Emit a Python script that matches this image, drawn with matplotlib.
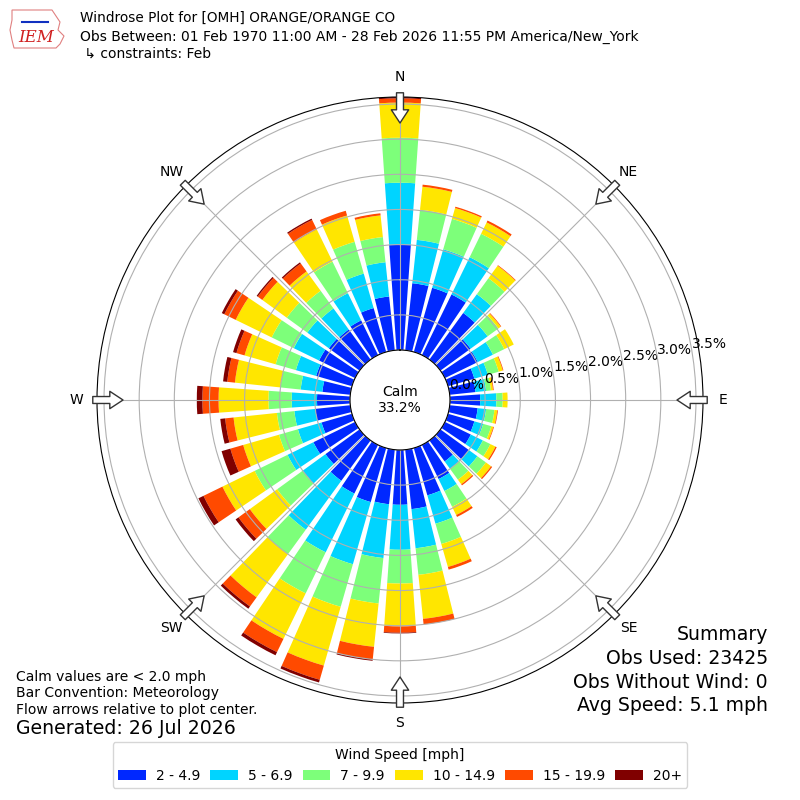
import numpy as np
import matplotlib
matplotlib.use("Agg")
import matplotlib.pyplot as plt
from matplotlib.patches import Patch, Polygon

# wind direction bins (degrees, meteorological convention)
directions = list(range(0, 360, 10))

# frequency (%) of each speed class per direction
speed_2_5 = [1.50, 0.96, 0.95, 0.96, 0.82, 0.53, 0.52, 0.39, 0.37, 0.43, 0.40, 0.39,
             0.41, 0.50, 0.37, 0.54, 0.70, 0.85, 0.78, 0.78, 0.80, 0.77, 0.71, 0.60,
             0.66, 0.45, 0.50, 0.47, 0.40, 0.53, 0.57, 0.54, 0.53, 0.55, 0.65, 0.77]
speed_5_7 = [0.88, 0.62, 0.57, 0.59, 0.33, 0.30, 0.24, 0.20, 0.15, 0.23, 0.12, 0.13,
             0.19, 0.15, 0.13, 0.19, 0.42, 0.56, 0.64, 0.77, 0.92, 0.93, 0.86, 0.40,
             0.41, 0.35, 0.30, 0.36, 0.31, 0.30, 0.40, 0.38, 0.37, 0.43, 0.51, 0.49]
speed_7_10 = [0.64, 0.43, 0.45, 0.37, 0.28, 0.19, 0.18, 0.16, 0.07, 0.09, 0.12, 0.12,
              0.12, 0.15, 0.19, 0.25, 0.30, 0.38, 0.48, 0.65, 0.63, 0.65, 0.43, 0.45,
              0.52, 0.28, 0.25, 0.33, 0.29, 0.30, 0.35, 0.36, 0.31, 0.50, 0.47, 0.36]
speed_10_15 = [0.50, 0.33, 0.16, 0.18, 0.22, 0.04, 0.15, 0.06, 0.03, 0.07, 0.04, 0.03,
               0.08, 0.09, 0.08, 0.13, 0.34, 0.63, 0.61, 0.62, 0.87, 0.72, 0.76, 0.48,
               0.51, 0.53, 0.62, 0.71, 0.65, 0.46, 0.57, 0.43, 0.34, 0.51, 0.39, 0.31]
speed_15_20 = [0.06, 0.03, 0.02, 0.03, 0.01, 0.01, 0.00, 0.01, 0.01, 0.00, 0.01, 0.01,
               0.02, 0.02, 0.02, 0.03, 0.04, 0.08, 0.09, 0.18, 0.21, 0.21, 0.16, 0.20,
               0.30, 0.19, 0.12, 0.23, 0.11, 0.12, 0.18, 0.08, 0.14, 0.15, 0.07, 0.03]
speed_20_up = [0.02, 0.00, 0.00, 0.00, 0.00, 0.00, 0.00, 0.00, 0.00, 0.00, 0.00, 0.00,
               0.00, 0.00, 0.00, 0.00, 0.00, 0.00, 0.01, 0.02, 0.04, 0.05, 0.04, 0.05,
               0.08, 0.13, 0.07, 0.08, 0.06, 0.05, 0.04, 0.02, 0.02, 0.02, 0.00, 0.00]

speed_labels = ["2 - 4.9", "5 - 6.9", "7 - 9.9", "10 - 14.9", "15 - 19.9", "20+"]
colors = ["#0028ff", "#00d4ff", "#7dff7a", "#ffe600", "#ff4a00", "#800000"]

compass = ["N", "NE", "E", "SE", "S", "SW", "W", "NW"]
rings = [0.0, 0.5, 1.0, 1.5, 2.0, 2.5, 3.0, 3.5]

fig = plt.figure(figsize=(8, 8), dpi=100)
ax = fig.add_axes([0.12125, 0.12125, 0.7575, 0.7575], projection="polar")
ax.set_theta_zero_location("N")
ax.set_theta_direction(-1)

theta = np.deg2rad(directions)
bottom = np.zeros(len(directions))
for vals, color in zip([speed_2_5, speed_5_7, speed_7_10, speed_10_15,
                        speed_15_20, speed_20_up], colors):
    ax.bar(theta, vals, width=np.deg2rad(8), bottom=bottom, color=color,
           linewidth=0, zorder=1)
    bottom = bottom + np.array(vals)

ax.set_ylim(0, 3.6)
ax.set_rorigin(-0.711)
ax.set_rgrids(rings, labels=[f"{r:.1f}%" for r in rings], angle=80.5)
ax.set_thetagrids(range(0, 360, 45), compass)
ax.grid(color="#b0b0b0", lw=0.8)
ax.tick_params(axis="x", pad=4, labelsize=10)
ax.tick_params(axis="y", labelsize=10)

# flow arrows on the outer ring, pointing to the centre
for ang in range(0, 360, 45):
    t = np.deg2rad(ang)
    ax.annotate("", xy=(t, 3.23), xytext=(t, 3.66), annotation_clip=False,
                arrowprops=dict(arrowstyle="simple,head_length=0.95,head_width=1.25,tail_width=0.5",
                                fc="white", ec="#333333", lw=1, shrinkA=0, shrinkB=0,
                                mutation_scale=10, clip_on=False))

fig.text(0.5, 0.5, "Calm\n33.2%", ha="center", va="center", fontsize=10)

# rough IEM logo
logo = [(12, 10), (52, 10), (56, 16), (60, 22), (58, 30), (64, 36), (60, 44),
        (56, 48), (14, 48), (12, 40), (10, 30), (12, 20)]
fig.patches.append(Polygon([(x / 800, 1 - y / 800) for x, y in logo], closed=True,
                           fill=False, ec="#e08080", lw=0.8, transform=fig.transFigure))
fig.add_artist(plt.Line2D([22 / 800, 48 / 800], [1 - 22 / 800, 1 - 22 / 800],
                          color="#1030c0", lw=1.5))
fig.text(36 / 800, 1 - 38 / 800, "IEM", color="#d02020", fontsize=12,
         family="DejaVu Serif", style="italic", ha="center", va="center")

fig.text(0.1, 1 - 18 / 800, "Windrose Plot for [OMH] ORANGE/ORANGE CO",
         fontsize=9.8, va="center")
fig.text(0.1, 1 - 37 / 800,
         "Obs Between: 01 Feb 1970 11:00 AM - 28 Feb 2026 11:55 PM America/New_York",
         fontsize=10, va="center")
fig.text(0.1, 1 - 54 / 800, " \u21b3 constraints: Feb", fontsize=10, va="center")

fig.text(0.02, 1 - 677 / 800, "Calm values are < 2.0 mph", fontsize=10, va="center")
fig.text(0.02, 1 - 693 / 800, "Bar Convention: Meteorology", fontsize=10, va="center")
fig.text(0.02, 1 - 710 / 800, "Flow arrows relative to plot center.", fontsize=10,
         va="center")
fig.text(0.02, 1 - 729 / 800, "Generated: 26 Jul 2026", fontsize=13.6, va="center")

summary = ["Summary", "Obs Used: 23425", "Obs Without Wind: 0", "Avg Speed: 5.1 mph"]
for i, line in enumerate(summary):
    fig.text(0.96, 1 - (635 + 23.5 * i) / 800, line, fontsize=13.6, ha="right",
             va="center")

handles = [Patch(facecolor=c, label=l) for c, l in zip(colors, speed_labels)]
fig.legend(handles=handles, loc="lower center", bbox_to_anchor=(0.5, 0.006), ncol=6,
           title="Wind Speed [mph]", fontsize=10, title_fontsize=10,
           handlelength=2.0, handletextpad=0.72, columnspacing=0.72,
           fancybox=True, edgecolor="#cccccc")

fig.savefig("out.png", dpi=100)
